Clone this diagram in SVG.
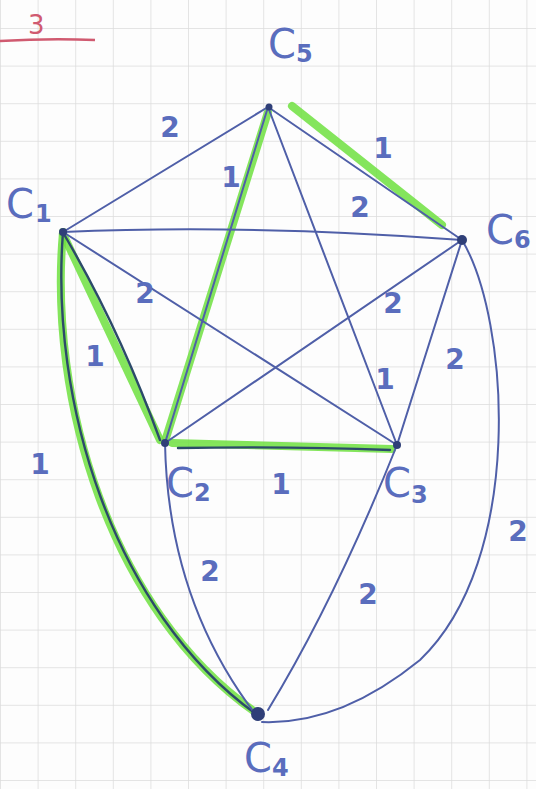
<svg xmlns="http://www.w3.org/2000/svg" width="536" height="789" viewBox="0 0 536 789">
<defs>
<pattern id="grid" x="0" y="28" width="37.6" height="37.6" patternUnits="userSpaceOnUse">
<path d="M0 0H37.6M0 0V37.6" fill="none" stroke="#dcdcdc" stroke-width="1.5"/>
</pattern>
<style>
.e{fill:none;stroke:#4f5fa8;stroke-width:2;stroke-linecap:round}
.g{fill:none;stroke:#6fe040;stroke-width:8;stroke-linecap:round;opacity:0.85}
.d{fill:none;stroke:#2c4a6a;stroke-width:2.4;stroke-linecap:round}
.w{font-family:"DejaVu Sans",sans-serif;font-size:28px;font-weight:600;fill:#5a6dbd;text-anchor:middle}
.n{font-family:"DejaVu Sans",sans-serif;font-size:40px;fill:#5a6dbd}
.s{font-size:24px;font-weight:600}
.dot{fill:#2f3f78}
</style>
</defs>
<rect width="536" height="789" fill="#fdfdfd"/>
<rect width="536" height="789" fill="url(#grid)"/>
<g id="header">
<text x="28" y="34" font-family="DejaVu Sans,sans-serif" font-size="26" fill="#d05a70">3</text>
<path d="M0 41 Q50 38 95 40" fill="none" stroke="#d05a70" stroke-width="2.5"/>
</g>
<g id="highlights">
<path class="g" d="M63 232 C48 400 110 610 255 712"/>
<path class="g" d="M63 234 L160 440"/>
<path class="g" d="M268 112 L166 438"/>
<path class="g" d="M292 106 L442 225"/>
<path class="g" d="M172 443 L392 449"/>
</g>
<g id="connectors">
<path class="e" d="M63 232 L268 107"/>
<path class="e" d="M268 107 L462 240"/>
<path class="e" d="M63 232 Q250 224 462 240"/>
<path class="e" d="M268 107 L397 445"/>
<path class="e" d="M63 232 L397 445"/>
<path class="e" d="M462 240 L165 443"/>
<path class="e" d="M462 240 L397 445"/>
<path class="e" d="M268 107 L165 443"/>
<path class="d" d="M63 232 C50 400 112 610 256 714"/>
<path class="d" d="M65 236 Q120 330 160 440"/>
<path class="d" d="M178 448 Q290 446 390 450"/>
<path class="e" d="M165 443 Q168 600 256 715"/>
<path class="e" d="M397 445 Q335 600 268 710"/>
<path class="e" d="M462 240 C510 320 525 560 420 660 Q340 725 262 722"/>
</g>
<g id="C1"><circle class="dot" cx="63" cy="232" r="4"/><text class="n" x="6" y="218">C<tspan class="s" dx="1" dy="4">1</tspan></text></g>
<g id="C5"><circle class="dot" cx="269" cy="107" r="3.5"/><text class="n" x="268" y="58">C<tspan class="s" dy="4">5</tspan></text></g>
<g id="C6"><circle class="dot" cx="462" cy="240" r="5"/><text class="n" x="486" y="244">C<tspan class="s" dy="4">6</tspan></text></g>
<g id="C2"><circle class="dot" cx="165" cy="443" r="4"/><text class="n" x="166" y="497">C<tspan class="s" dy="4">2</tspan></text></g>
<g id="C3"><circle class="dot" cx="397" cy="445" r="4"/><text class="n" x="383" y="497">C<tspan class="s" dy="6">3</tspan></text></g>
<g id="C4"><circle class="dot" cx="258" cy="714" r="7"/><text class="n" x="244" y="772">C<tspan class="s" dy="4">4</tspan></text></g>
<g id="weights">
<text class="w" x="170" y="137">2</text>
<text class="w" x="383" y="158">1</text>
<text class="w" x="231" y="187">1</text>
<text class="w" x="360" y="217">2</text>
<text class="w" x="145" y="303">2</text>
<text class="w" x="393" y="313">2</text>
<text class="w" x="95" y="366">1</text>
<text class="w" x="455" y="369">2</text>
<text class="w" x="385" y="389">1</text>
<text class="w" x="40" y="474">1</text>
<text class="w" x="281" y="494">1</text>
<text class="w" x="518" y="541">2</text>
<text class="w" x="210" y="581">2</text>
<text class="w" x="368" y="604">2</text>
</g>
</svg>
